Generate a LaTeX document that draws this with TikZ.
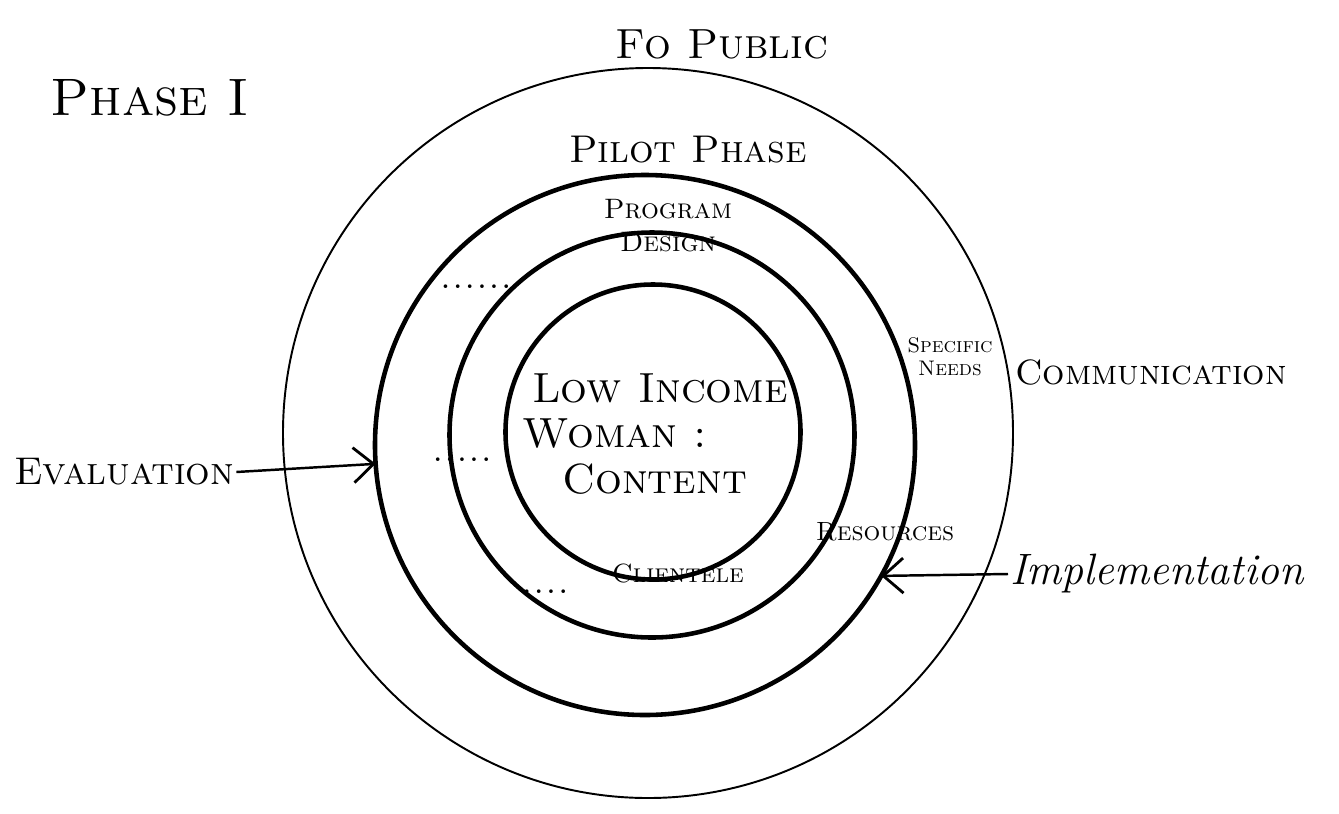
\documentclass[tikz,border=0pt]{standalone}
\usetikzlibrary{arrows.meta}

\begin{document}
\begin{tikzpicture}[
    x=0.2mm, y=-0.2mm,
    every node/.style={font=\scshape, inner sep=1pt},
    ring/.style={circle, draw, inner sep=0pt, outer sep=0pt},
    thin ring/.style={ring, line width=1.1pt},
    thick ring/.style={ring, line width=2.6pt},
    label/.style={align=center, font=\fontsize{#1}{#1}\selectfont\scshape},
    arrow/.style={-{Straight Barb[length=4mm,width=7mm,line width=1.6pt]}, line width=1.4pt}
]
\useasboundingbox (0,0) rectangle (1339,813);

% rings
\node[thin ring, minimum size=146mm] (public) at (648,433) {};
\node[thick ring, minimum size=108mm] (pilot) at (645,445) {};
\node[thick ring, minimum size=81mm] (design) at (652,435) {};
\node[thick ring, minimum size=59mm] (content) at (653,432) {};

% labels
\node[label=30] (phase) at (150,98) {Phase I};
\node[label=24] (topublic) at (722,44) {Fo Public};
\node[label=22] (pilotlbl) at (688,150) {Pilot Phase};
\node[label=16, anchor=south] (designlbl) at (668,254) {Program\\[3pt]Design};
\node[label=12] (needs) at (950,357) {Specific\\[1pt]Needs};
\node[label=24, align=left] (woman) at (660,434) {Low Income\\[2pt]\hspace{-2mm}Woman :\\[2pt]\hspace{6mm}Content};
\node[label=15] (resources) at (885,532) {Resources};
\node[label=15] (clientele) at (678,573) {Clientele};
\node[label=20, anchor=west] (comm) at (1013,372) {Communication};
\node[label=22, anchor=west] (eval) at (12,472) {Evaluation};
\node[font=\fontsize{25}{25}\selectfont\itshape, anchor=west] (impl) at (1008,574) {Implementation};

% dots
\node[font=\Large\bfseries] (dotsa) at (476,287) {.\,.\,.\,.\,.\,.};
\node[font=\Large\bfseries] (dotsb) at (462,460) {.\,.\,.\,.\,.};
\node[font=\Large\bfseries] (dotsc) at (545,592) {.\,.\,.\,.};

% arrows
\draw[arrow] (eval.east) -- (pilot.184);
\draw[arrow] (impl.west) -- (pilot.-29);

\end{tikzpicture}
\end{document}
